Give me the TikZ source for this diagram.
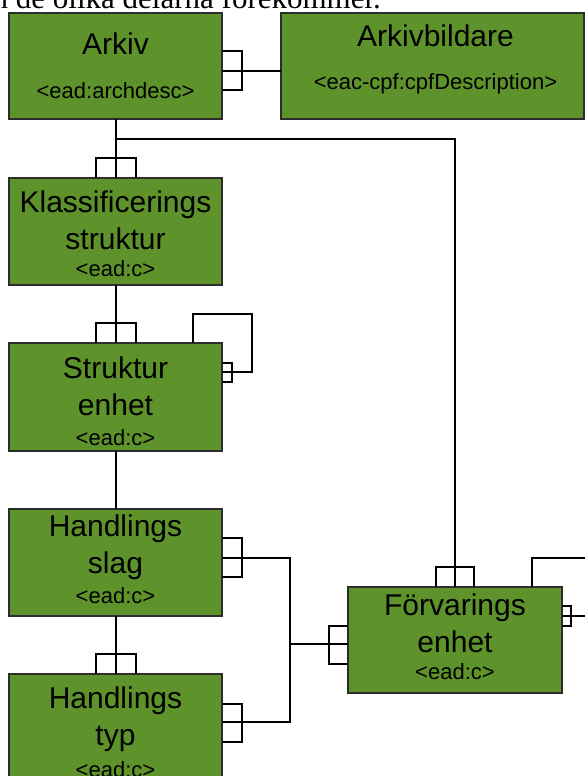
\documentclass[tikz,border=0pt]{standalone}
\usepackage{fontspec}
\setmainfont{Liberation Sans}
\newfontfamily\topserif{Liberation Serif}
\usetikzlibrary{calc}
\definecolor{boxgreen}{RGB}{93,147,42}
\definecolor{boxborder}{RGB}{45,45,45}
\tikzset{
  box/.style={draw=boxborder, line width=1.5pt, fill=boxgreen, minimum width=213pt,
    minimum height=107pt, inner sep=0pt, outer sep=0pt, anchor=north west},
  big/.style={font=\fontsize{30}{36}\selectfont, anchor=base, inner sep=0pt},
  small/.style={font=\fontsize{22}{26}\selectfont, anchor=base, inner sep=0pt},
  conn/.style={line width=2pt, black, line join=miter},
}
\begin{document}
\begin{tikzpicture}[x=1pt,y=-1pt]
\useasboundingbox (0,0) rectangle (585,776);
\clip (0,0) rectangle (585,776);

% cut-off line of body text above the diagram
\node[anchor=base west, inner sep=0pt, font=\topserif\fontsize{31}{36}\selectfont] (toptext) at (-7.5,9) {n de olika delarna förekommer.};

% boxes
\node[box, minimum height=106pt] (arkiv) at (9,13) {};
\node[box, minimum width=303pt, minimum height=106pt] (arkivb) at (281,13) {};
\node[box] (klass) at (9,178) {};
\node[box, minimum height=108pt] (strukt) at (9,343) {};
\node[box] (hslag) at (9,509) {};
\node[box] (htyp) at (9,674) {};
\node[box, minimum width=214pt, minimum height=106pt] (forv) at (348,587) {};

% texts
\node[big] (t1a) at ($(arkiv.north)+(0,42)$) {Arkiv};
\node[small] (t1b) at ($(arkiv.north)+(0,86)$) {<ead:archdesc>};
\node[big] (t2a) at ($(arkivb.north)+(3,34)$) {Arkivbildare};
\node[small] (t2b) at ($(arkivb.north)+(3,76)$) {<eac-cpf:cpfDescription>};
\node[big] (t3a) at ($(klass.north)+(0,34.7)$) {Klassificerings};
\node[big] (t3b) at ($(klass.north)+(0,71.3)$) {struktur};
\node[small] (t3c) at ($(klass.north)+(0,98.7)$) {<ead:c>};
\node[big] (t4a) at ($(strukt.north)+(0,35.3)$) {Struktur};
\node[big] (t4b) at ($(strukt.north)+(0,72)$) {enhet};
\node[small] (t4c) at ($(strukt.north)+(0,102)$) {<ead:c>};
\node[big] (t5a) at ($(hslag.north)+(0,27.7)$) {Handlings};
\node[big] (t5b) at ($(hslag.north)+(0,64.3)$) {slag};
\node[small] (t5c) at ($(hslag.north)+(0,94.3)$) {<ead:c>};
\node[big] (t6a) at ($(htyp.north)+(0,34.3)$) {Handlings};
\node[big] (t6b) at ($(htyp.north)+(0,71)$) {typ};
\node[small] (t6c) at ($(htyp.north)+(0,103)$) {<ead:c>};
\node[big] (t7a) at ($(forv.north)+(0,28)$) {Förvarings};
\node[big] (t7b) at ($(forv.north)+(0,65.7)$) {enhet};
\node[small] (t7c) at ($(forv.north)+(0,92)$) {<ead:c>};

% Arkiv -- Arkivbildare
\draw[conn] ($(arkiv.north east)+(0,58)$) -- ($(arkivb.north west)+(0,58)$);
\draw[conn] ($(arkiv.north east)+(0,38)$) -- ++(20,0) -- ++(0,39) -- ++(-20,0);

% Arkiv -- Klassificeringsstruktur, Arkiv -- Förvaringsenhet
\draw[conn] (arkiv.south) -- (klass.north);
\coordinate (split) at ($(arkiv.south)+(0,20)$);
\draw[conn] (split) -| (forv.north);
\draw[conn] ($(klass.north)+(-20,0)$) -- ++(0,-20) -- ++(40,0) -- ++(0,20);
\draw[conn] ($(forv.north)+(-19,0)$) -- ++(0,-20) -- ++(38,0) -- ++(0,20);

% Klassificeringsstruktur -- Strukturenhet
\draw[conn] (klass.south) -- (strukt.north);
\draw[conn] ($(strukt.north)+(-20,0)$) -- ++(0,-20) -- ++(40,0) -- ++(0,20);

% Strukturenhet self loop
\draw[conn] ($(strukt.north west)+(184,0)$) |- ($(strukt.north east)+(30,-29)$) |- ($(strukt.north east)+(0,29)$);
\draw[conn] ($(strukt.north east)+(0,20)$) -- ++(10,0) -- ++(0,19) -- ++(-10,0);

% Strukturenhet -- Handlingsslag
\draw[conn] (strukt.south) -- (hslag.north);

% Handlingsslag -- Handlingstyp
\draw[conn] (hslag.south) -- (htyp.north);
\draw[conn] ($(htyp.north)+(-20,0)$) -- ++(0,-20) -- ++(40,0) -- ++(0,20);

% Handlingsslag / Handlingstyp -- Förvaringsenhet
\draw[conn] ($(hslag.north east)+(0,49)$) -| ($(htyp.north east)+(68,48)$) -- ($(htyp.north east)+(0,48)$);
\coordinate (bus) at ($(forv.north west)+(-58,57)$);
\draw[conn] (bus) -- ($(forv.north west)+(0,57)$);
\draw[conn] ($(hslag.north east)+(0,29)$) -- ++(20,0) -- ++(0,39) -- ++(-20,0);
\draw[conn] ($(htyp.north east)+(0,30)$) -- ++(20,0) -- ++(0,38) -- ++(-20,0);
\draw[conn] ($(forv.north west)+(0,39)$) -- ++(-19,0) -- ++(0,38) -- ++(19,0);

% Förvaringsenhet self loop (runs off the right edge)
\draw[conn] ($(forv.north west)+(184,0)$) |- ($(forv.north east)+(45,-29)$) |- ($(forv.north east)+(0,29)$);
\draw[conn] ($(forv.north east)+(0,19)$) -- ++(9,0) -- ++(0,20) -- ++(-9,0);
\end{tikzpicture}
\end{document}
